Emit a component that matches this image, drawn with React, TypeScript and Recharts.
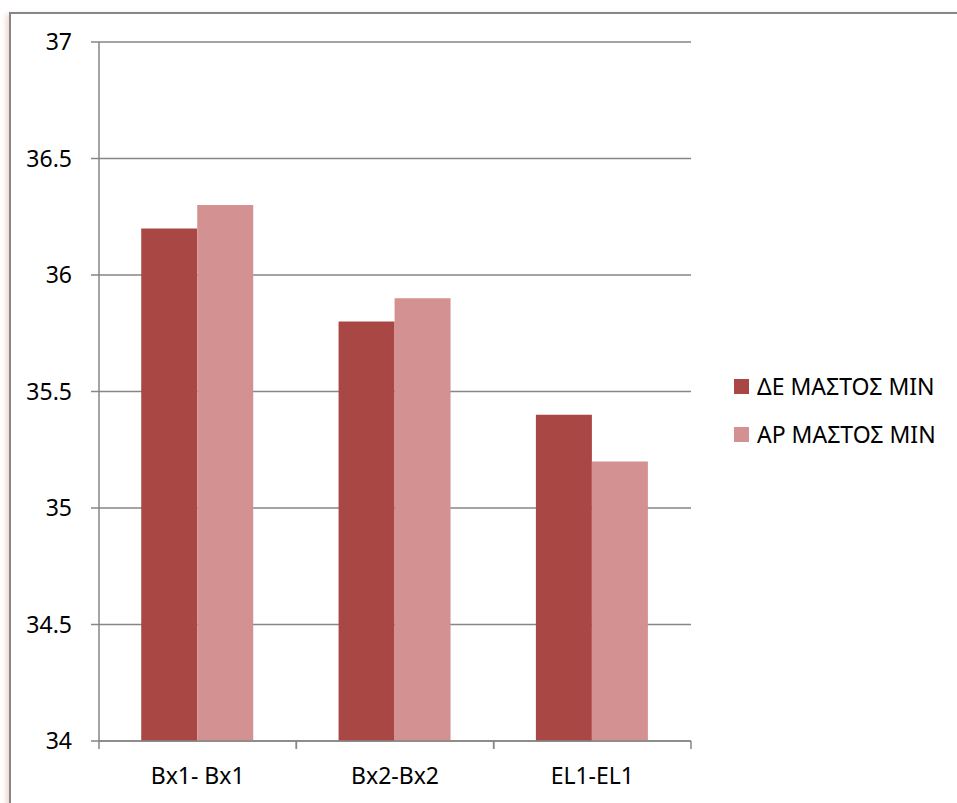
import React from "react";
import { BarChart, Bar, XAxis, YAxis, CartesianGrid, Legend } from "recharts";

// Category labels and the two series
const categories = ["Bx1- Bx1", "Bx2-Bx2", "EL1-EL1"];
const deValues = [36.2, 35.8, 35.4];
const arValues = [36.3, 35.9, 35.2];
const seriesNames = ["ΔΕ ΜΑΣΤΟΣ ΜΙΝ", "ΑΡ ΜΑΣΤΟΣ ΜΙΝ"];
const yTicks = [34, 34.5, 35, 35.5, 36, 36.5, 37];

const seriesColors = ["#A94744", "#D39291"];
const axisColor = "#868686";
const fontFamily = "'Noto Sans', 'Open Sans', sans-serif";

const data = categories.map((name, i) => ({
  name,
  de: deValues[i],
  ar: arValues[i],
}));

// X tick: label centred under the category, tick marks on the category boundaries
const CategoryTick = (props: any) => {
  const { x, y, payload } = props;
  const half = payload?.offset ?? 0;
  return (
    <g>
      <line x1={x - half} x2={x - half} y1={y} y2={y + 8} stroke={axisColor} strokeWidth={1.5} />
      <line x1={x + half} x2={x + half} y1={y} y2={y + 8} stroke={axisColor} strokeWidth={1.5} />
      <text x={x} y={y + 43} textAnchor="middle" fill="#000" fontSize={23} fontFamily={fontFamily}>
        {payload.value}
      </text>
    </g>
  );
};

// Legend rows in series order
const LegendContent = (props: any) => {
  const items = [...(props.payload || [])].sort(
    (a: any, b: any) => seriesNames.indexOf(a.value) - seriesNames.indexOf(b.value)
  );
  return (
    <div style={{ fontFamily, fontSize: 23, color: "#000" }}>
      {items.map((item: any) => (
        <div key={item.value} style={{ height: 48, display: "flex", alignItems: "center" }}>
          <span
            style={{
              display: "inline-block",
              width: 15,
              height: 15,
              background: item.color,
              marginRight: 8,
            }}
          />
          <span style={{ whiteSpace: "nowrap" }}>{item.value}</span>
        </div>
      ))}
    </div>
  );
};

export default function App() {
  return (
    <div
      style={{
        position: "absolute",
        left: 0,
        top: 0,
        width: 957,
        height: 803,
        overflow: "hidden",
        background: "#fff",
      }}
    >
      <div
        style={{
          position: "absolute",
          left: 9,
          top: 12,
          width: 1000,
          height: 900,
          borderTop: "2px solid #878787",
          borderLeft: "2px solid #878787",
          boxShadow: "-3px 2px 5px rgba(215,150,130,0.35)",
        }}
      />
      <div style={{ position: "absolute", left: 0, top: 0 }}>
        <BarChart
          width={957}
          height={803}
          data={data}
          margin={{ top: 42, right: 266, bottom: 0, left: 0 }}
          barCategoryGap="21.4%"
          barGap={0}
        >
          <CartesianGrid vertical={false} stroke={axisColor} strokeWidth={1.5} />
          <XAxis
            dataKey="name"
            height={62}
            axisLine={{ stroke: axisColor, strokeWidth: 1.5 }}
            tickLine={false}
            tickSize={0}
            tickMargin={0}
            tick={<CategoryTick />}
            interval={0}
          />
          <YAxis
            width={99}
            domain={[34, 37]}
            ticks={yTicks}
            interval={0}
            axisLine={{ stroke: axisColor, strokeWidth: 1.5 }}
            tickLine={{ stroke: axisColor, strokeWidth: 1.5 }}
            tickSize={8}
            tickMargin={19}
            tick={{ fill: "#000", fontSize: 23, fontFamily }}
          />
          <Legend
            layout="vertical"
            align="center"
            verticalAlign="middle"
            content={<LegendContent />}
            wrapperStyle={{ position: "absolute", left: 734, top: 362, width: 223 }}
          />
          <Bar dataKey="de" name={seriesNames[0]} fill={seriesColors[0]} isAnimationActive={false} />
          <Bar dataKey="ar" name={seriesNames[1]} fill={seriesColors[1]} isAnimationActive={false} />
        </BarChart>
      </div>
    </div>
  );
}
